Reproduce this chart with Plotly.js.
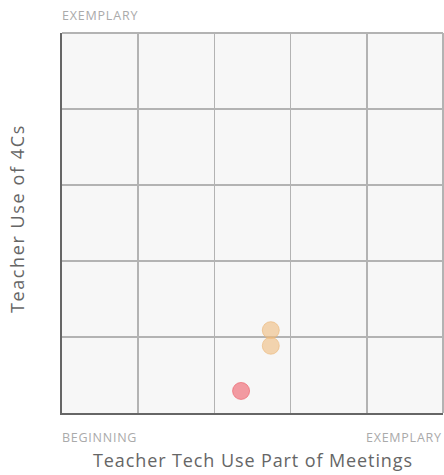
<!DOCTYPE html>
<html><head><meta charset="utf-8">
<script src="https://cdn.plot.ly/plotly-3.0.1.min.js"></script>
<style>html,body{margin:0;padding:0;background:#fff;}#chart{width:444px;height:475px;}</style>
</head><body><div id="chart"></div>
<script>
const xLabels = ["BEGINNING", "EXEMPLARY"];
const yLabels = ["EXEMPLARY"];
const xTitle = "Teacher Tech Use Part of Meetings";
const yTitle = "Teacher Use of 4Cs";
const seriesRed = {x: [2.35], y: [0.29]};
const seriesOrange = {x: [2.74, 2.74], y: [1.09, 0.885]};

const font = "'Open Sans', sans-serif";
const sp = (t, s) => '<span style="letter-spacing:' + s + 'px">' + t + '</span>';
const data = [
  {type: "scatter", mode: "markers", x: seriesOrange.x, y: seriesOrange.y,
   marker: {size: 17, color: "rgba(240,192,135,0.65)", line: {color: "rgba(235,180,115,0.6)", width: 1}}, hoverinfo: "none"},
  {type: "scatter", mode: "markers", x: seriesRed.x, y: seriesRed.y,
   marker: {size: 17, color: "rgba(240,105,115,0.65)", line: {color: "rgba(235,90,100,0.6)", width: 1}}, hoverinfo: "none"}
];
const layout = {
  width: 444, height: 475,
  margin: {l: 62, r: 1, t: 33, b: 62},
  paper_bgcolor: "#fff", plot_bgcolor: "#f7f7f7",
  showlegend: false,
  xaxis: {range: [0, 5], dtick: 1, tick0: 0, showticklabels: false, ticks: "",
    showgrid: true, gridcolor: "#b3b3b3", gridwidth: 1.5, zeroline: false,
    showline: true, linecolor: "#666", linewidth: 2, mirror: false, fixedrange: true},
  yaxis: {range: [0, 5], dtick: 1, tick0: 0, showticklabels: false, ticks: "",
    showgrid: true, gridcolor: "#b3b3b3", gridwidth: 1.5, zeroline: false,
    showline: true, linecolor: "#666", linewidth: 2, fixedrange: true},
  shapes: [
    {type: "line", xref: "paper", yref: "paper", x0: 1, x1: 1, y0: 0, y1: 1, line: {color: "#b3b3b3", width: 2}},
    {type: "line", xref: "paper", yref: "paper", x0: 0, x1: 1, y0: 1, y1: 1, line: {color: "#b3b3b3", width: 2}}
  ],
  annotations: [
    {text: sp(xLabels[0], 0.75), xref: "paper", yref: "paper", x: 0, y: 0, xanchor: "left", yanchor: "top", xshift: -2, yshift: -14, showarrow: false, font: {family: font, size: 12.5, color: "#aaa"}},
    {text: sp(xLabels[1], 0.75), xref: "paper", yref: "paper", x: 1, y: 0, xanchor: "right", yanchor: "top", xshift: 1, yshift: -14, showarrow: false, font: {family: font, size: 12.5, color: "#aaa"}},
    {text: sp(yLabels[0], 0.8), xref: "paper", yref: "paper", x: 0, y: 1, xanchor: "left", yanchor: "bottom", xshift: -2, yshift: 7, showarrow: false, font: {family: font, size: 12.5, color: "#aaa"}},
    {text: sp(xTitle, 0.9), xref: "paper", yref: "paper", x: 0.5, y: 0, xanchor: "center", yanchor: "middle", yshift: -47, showarrow: false, font: {family: font, size: 18, color: "#666"}},
    {text: sp(yTitle, 1.6), xref: "paper", yref: "paper", x: 0, y: 0.5, xanchor: "center", yanchor: "middle", xshift: -45, yshift: 4, textangle: -90, showarrow: false, font: {family: font, size: 18, color: "#666"}}
  ]
};
Plotly.newPlot("chart", data, layout, {displayModeBar: false, staticPlot: true});
</script></body></html>
